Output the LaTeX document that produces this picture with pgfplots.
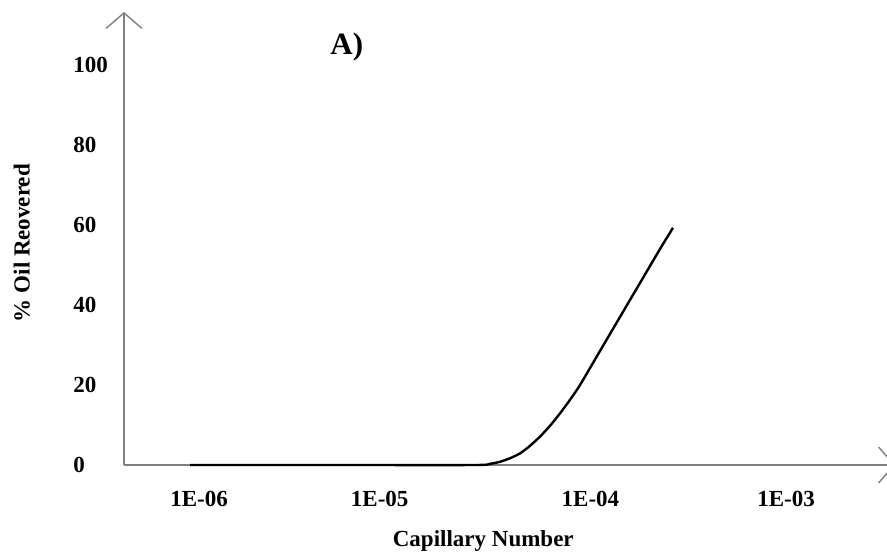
\documentclass[border=0pt]{standalone}
\usepackage{pgfplots}
\pgfplotsset{compat=1.18}
\usepackage{fontspec}
\setmainfont{Liberation Serif}
\usetikzlibrary{arrows.meta}
\definecolor{axisgray}{HTML}{808080}
\begin{document}
\begin{tikzpicture}
\begin{axis}[
  name=ax,
  scale only axis,
  width=385.5pt, height=226.5pt,
  xmode=log,
  xmin=4.137e-7, xmax=3.601e-3,
  ymin=0, ymax=113.25,
  clip=false,
  axis lines=left,
  axis line style={draw=axisgray, line width=0.7pt, -{Straight Barb[length=7.75pt,width=18pt]}},
  major tick length=0pt, minor tick length=0pt,
  xtick={1e-6,1e-5,1e-4,1e-3},
  xticklabels={{\raisebox{-2pt}{1E-06}},{\hspace*{-7.5pt}1E-05\hspace*{7.5pt}},1E-04,1E-03},
  ytick={0,20,40,60,80,100},
  yticklabels={0,20,40,60,80,100},
  tick label style={font=\fontsize{11.5}{13}\selectfont\bfseries},
  xticklabel style={anchor=center, yshift=-17pt},
  yticklabel style={anchor=west, inner sep=0pt, xshift=-25.5pt},
  xlabel={Capillary Number},
  ylabel={\% Oil Reovered},
  label style={font=\fontsize{11.5}{13}\selectfont\bfseries},
  xlabel style={at={(axis description cs:0.466,-0.168)}, anchor=center},
  ylabel style={at={(axis description cs:-0.1326,0.49)}, anchor=center, rotate=0},
]
\addplot[black, line width=1.2pt, smooth, tension=0.4] coordinates {
  (9.0e-7,0) (5.0e-6,0) (2.572e-5,0) (3.069e-5,0.3) (3.452e-5,0.8) (3.884e-5,1.7)
  (4.368e-5,2.9) (4.913e-5,4.8) (5.527e-5,7.1) (6.217e-5,9.8) (6.993e-5,12.9)
  (7.866e-5,16.3) (8.849e-5,20.0) (1.119e-4,28.5) (1.416e-4,37.0)
  (1.792e-4,45.5) (2.268e-4,54.0) (2.642e-4,59.3)
};
\node[font=\fontsize{15.5}{17}\selectfont\bfseries] at (rel axis cs:0.289,0.923) {A)};
\end{axis}
\pgfresetboundingbox
\path[use as bounding box] ([xshift=-62pt,yshift=-44pt]ax.south west) rectangle ([xshift=-4pt,yshift=6pt]ax.north east);
\end{tikzpicture}
\end{document}
